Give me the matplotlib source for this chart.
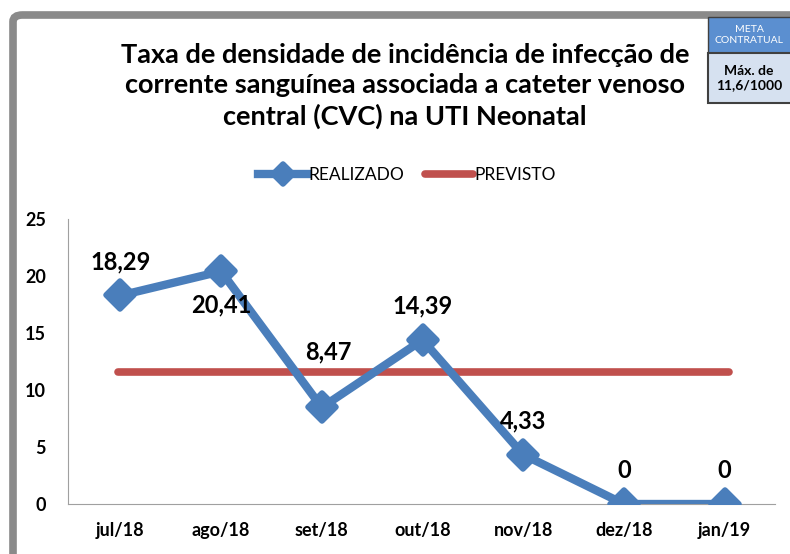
import matplotlib.pyplot as plt
from matplotlib.patches import FancyBboxPatch, Rectangle
from matplotlib.markers import MarkerStyle
import matplotlib

matplotlib.rcParams['font.family'] = ['Lato', 'DejaVu Sans']

# dados
meses = ['jul/18', 'ago/18', 'set/18', 'out/18', 'nov/18', 'dez/18', 'jan/19']
realizado = [18.29, 20.41, 8.47, 14.39, 4.33, 0, 0]
previsto = [11.6] * 7
rotulos = ['18,29', '20,41', '8,47', '14,39', '4,33', '0', '0']

W, H = 790, 554
fig = plt.figure(figsize=(W / 100, H / 100), dpi=100)

def fx(px):
    return px / W

def fy(py):
    return 1 - py / H

# moldura cinza
moldura = FancyBboxPatch((fx(13), fy(700)), fx(900), fy(15) - fy(700),
                         boxstyle='round,pad=0,rounding_size=0.012',
                         transform=fig.transFigure, facecolor='none',
                         edgecolor='#8a8a8a', linewidth=5.5)
fig.patches.append(moldura)

# caixa de meta
fig.patches.append(Rectangle((fx(708), fy(53)), fx(90), fy(17) - fy(53),
                             transform=fig.transFigure, facecolor='#5b8fd0',
                             edgecolor='#404040', linewidth=1))
fig.patches.append(Rectangle((fx(708), fy(103)), fx(90), fy(53) - fy(103),
                             transform=fig.transFigure, facecolor='#d6e1f0',
                             edgecolor='#404040', linewidth=1.5))
fig.text(fx(749), fy(35), 'META\nCONTRATUAL', color='white', fontsize=7.5,
         ha='center', va='center', linespacing=1.3)
fig.text(fx(749), fy(78), 'Máx. de\n11,6/1000', color='black', fontsize=10,
         fontweight='bold', ha='center', va='center', linespacing=1.2)

# titulo
fig.text(fx(405), fy(86), 'Taxa de densidade de incidência de infecção de\n'
         'corrente sanguínea associada a cateter venoso\n'
         'central (CVC) na UTI Neonatal',
         fontsize=19.5, fontweight='bold', ha='center', va='center', linespacing=1.3)

ax = fig.add_axes([fx(68), fy(504), fx(775) - fx(68), fy(219) - fy(504)])
ax.patch.set_alpha(0)
x = range(len(meses))
losango = MarkerStyle('D', joinstyle='round')
ax.plot(x, realizado, color='#4a7ebb', linewidth=6, marker=losango, markersize=14,
        markeredgewidth=4, solid_joinstyle='round', label='REALIZADO', zorder=3)
ax.plot([-0.02, 6.04], [11.6, 11.6], color='#c0504d', linewidth=5.5,
        solid_capstyle='round', label='PREVISTO', zorder=2)

# deslocamento dos rótulos (pixels)
desloc = {1: (0, -34), 2: (7, 56)}
for i, (v, r) in enumerate(zip(realizado, rotulos)):
    ax.annotate(r, (i, v), xytext=desloc.get(i, (0, 34)), textcoords='offset pixels',
                ha='center', va='center', fontsize=17, fontweight='bold')

ax.set_xlim(-0.52, 6.5)
ax.set_ylim(0, 25)
ax.set_yticks([0, 5, 10, 15, 20, 25])
ax.set_xticks(list(x))
ax.set_xticklabels(meses)
for s in ['top', 'right']:
    ax.spines[s].set_visible(False)
ax.spines['left'].set_color('#a0a0a0')
ax.spines['bottom'].set_color('#a0a0a0')
ax.tick_params(length=0, labelsize=13, pad=13)
ax.tick_params(axis='y', pad=16)
for t in ax.get_xticklabels() + ax.get_yticklabels():
    t.set_fontweight('bold')

ax.legend(loc='center', bbox_to_anchor=((407 - 68) / (775 - 68), (504 - 175) / (504 - 219)),
          bbox_transform=ax.transAxes, ncol=2, frameon=False, fontsize=12.5,
          handlelength=2.8, columnspacing=1.2, handletextpad=0.05, markerscale=0.7)

fig.savefig('out.png', dpi=100)
